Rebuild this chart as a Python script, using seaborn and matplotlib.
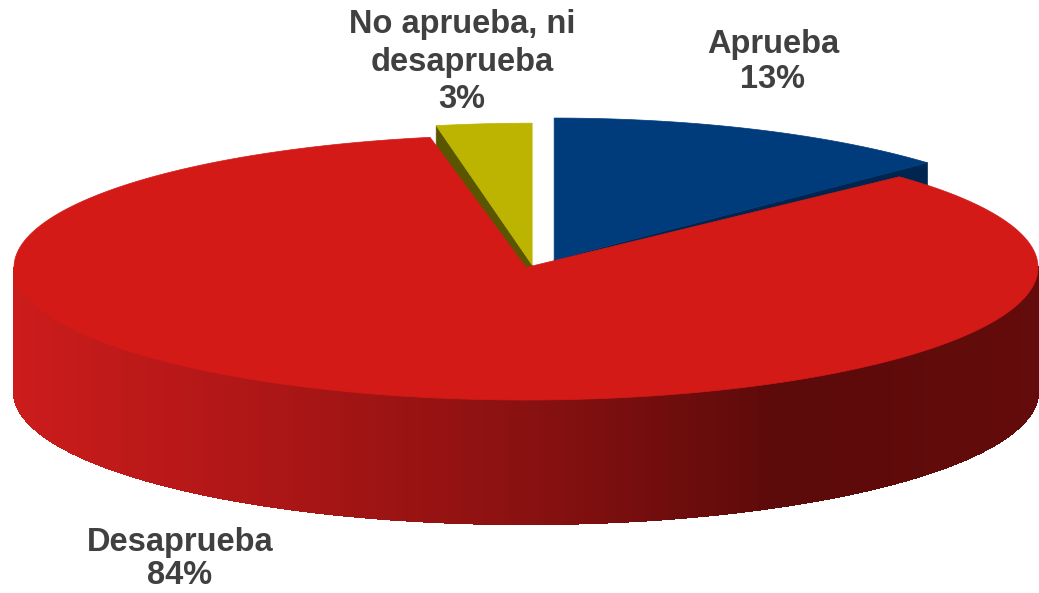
import numpy as np
import matplotlib
matplotlib.use("Agg")
import matplotlib.pyplot as plt
from matplotlib.collections import PolyCollection
from matplotlib.patches import Polygon
import seaborn as sns

# data
labels = ["Aprueba", "Desaprueba", "No aprueba, ni\ndesaprueba"]
shares = [13, 84, 3]
top_colors = ["#003b7c", "#d41a17", "#bcb400"]
side_colors = ["#00254f", None, "#5a5600"]   # None -> shaded gradient

# layout (pixel frame of the reference, converted to pie units below)
W, H = 1039, 593
CX, CY, R = 526.0, 267.5, 512.0
RY = 132.5 / R          # tilt of the pie
DEPTH = 124.0 / R       # thickness
offsets = [(0.055, 0.015), (0.0, 0.0), (0.012, 0.005)]
lift = [1.07, 1.0, 1.07]
label_px = [(773, 62), (180, 559), (462, 62)]
label_spacing = [1.2, 1.05, 1.25]

sns.set_style("white")
plt.rcParams["font.family"] = ["Liberation Sans", "DejaVu Sans"]

red_side = sns.blend_palette(["#cc1c1c", "#ad1616", "#8a1111", "#5c0a0a", "#640b0b"],
                             n_colors=256, as_cmap=True)


def px2d(px, py):
    return (px - CX) / R, (CY - py) / R


fig = plt.figure(figsize=(W / 100, H / 100), dpi=100)
ax = fig.add_axes([0, 0, 1, 1])
x0, y1 = px2d(0, 0)
x1, y0 = px2d(W, H)
ax.set_xlim(x0, x1)
ax.set_ylim(y0, y1)
ax.set_aspect("equal")
ax.axis("off")

total = float(sum(shares))
bounds = np.concatenate([[0], np.cumsum(shares)]) / total * 2 * np.pi


def rim(ox, oy, t, k):
    return ox + np.cos(t), oy + RY * k * np.sin(t)


wedges = []
for i in range(len(shares)):
    # clockwise from 12 o'clock
    a0 = np.pi / 2 - bounds[i + 1]
    a1 = np.pi / 2 - bounds[i]
    wedges.append((i, a0, a1))

# back to front
wedges.sort(key=lambda w: -np.sin((w[1] + w[2]) / 2))

for i, a0, a1 in wedges:
    ox, oy = offsets[i]
    k = lift[i]
    # radial faces that look toward the viewer
    for a, nrm in ((a0, a0 - np.pi / 2), (a1, a1 + np.pi / 2)):
        if np.sin(nrm) < -0.05:
            rx, ryy = rim(ox, oy, a, k)
            quad = [(ox, oy), (rx, ryy), (rx, ryy - DEPTH), (ox, oy - DEPTH)]
            c = side_colors[i] if side_colors[i] else "#7a0e0e"
            ax.add_patch(Polygon(quad, closed=True, fc=c, ec=c, lw=0.5))
    # outer wall (front part only)
    ts = np.linspace(a0, a1, 400)
    strips, cols = [], []
    for ta, tb in zip(ts[:-1], ts[1:]):
        if np.sin((ta + tb) / 2) >= 0:
            continue
        xa, ya = rim(ox, oy, ta, k)
        xb, yb = rim(ox, oy, tb, k)
        strips.append([(xa, ya), (xb, yb), (xb, yb - DEPTH), (xa, ya - DEPTH)])
        if side_colors[i]:
            cols.append(side_colors[i])
        else:
            cols.append(red_side(((xa + xb) / 2 + 1) / 2))
    if strips:
        ax.add_collection(PolyCollection(strips, facecolors=cols, edgecolors=cols,
                                         linewidths=1.0, antialiaseds=False))
    # top face
    xs, ys = rim(ox, oy, ts, k)
    top = np.column_stack([np.r_[ox, xs], np.r_[oy, ys]])
    ax.add_patch(Polygon(top, closed=True, fc=top_colors[i], ec=top_colors[i], lw=0.5))

for lab, s, (px, py), ls in zip(labels, shares, label_px, label_spacing):
    tx, ty = px2d(px, py)
    ax.text(tx, ty, f"{lab}\n{s}%", ha="center", va="center", fontsize=23.5,
            fontweight="bold", color="#404040", linespacing=ls)

fig.savefig("out.png", dpi=100)
